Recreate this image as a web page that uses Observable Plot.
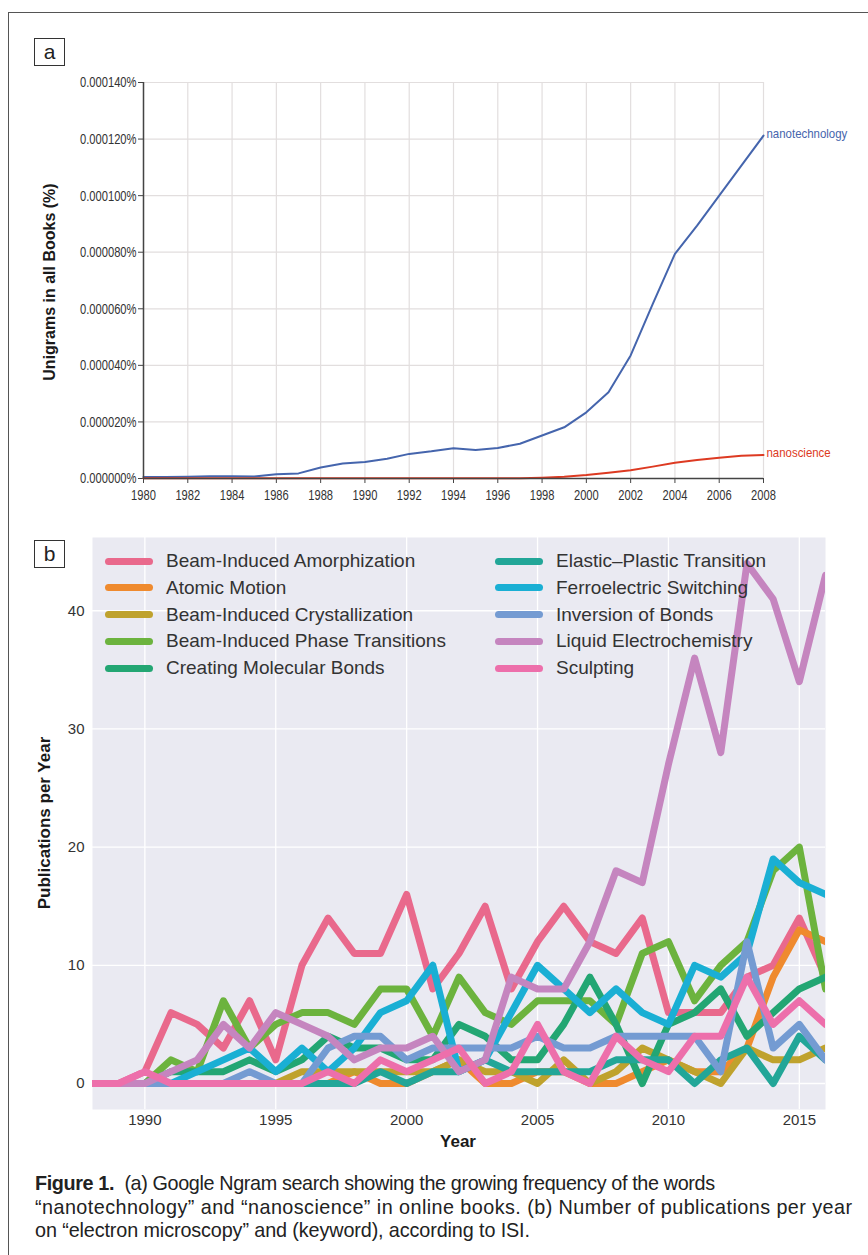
<!DOCTYPE html>
<html>
<head>
<meta charset="utf-8">
<script src="https://cdn.jsdelivr.net/npm/d3@7"></script>
<script src="https://cdn.jsdelivr.net/npm/@observablehq/plot@0.6"></script>
<style>
  body { margin: 0; background: #fff; }
  #page { position: relative; width: 868px; height: 1255px; overflow: hidden; font-family: "Liberation Sans", Arial, sans-serif; color: #222; }
  .frame { position: absolute; left: 8px; top: 12px; width: 1000px; height: 1400px; border-left: 1.5px solid #555; border-top: 1.5px solid #555; }
  .box { position: absolute; width: 29px; height: 26px; border: 1px solid #333; background: #fff; font-size: 21px; line-height: 25px; text-align: center; color: #222; }
  .abs { position: absolute; }
  .vlabel { position: absolute; transform: translate(-50%, -50%) rotate(-90deg); white-space: nowrap; font-weight: bold; color: #1a1a1a; }
  .legrow { position: absolute; height: 26px; display: flex; align-items: center; white-space: nowrap; font-size: 19px; color: #333; }
  .sw { width: 48px; height: 7px; border-radius: 4px; margin-right: 13px; }
  .capline { position: absolute; left: 35px; font-size: 19.8px; line-height: 23.5px; color: #222; white-space: nowrap; }
  #pa, #pb { position: absolute; left: 0; }
</style>
</head>
<body>
<div id="page">
  <div class="frame"></div>
  <div id="pa" style="top:0"></div>
  <div id="pb" style="top:520px"></div>
  <div class="box" style="left:34px; top:38px;">a</div>
  <div class="box" style="left:34px; top:540px;">b</div>
  <div class="vlabel" style="left:50px; top:282px; font-size:16px;">Unigrams in all Books (%)</div>
  <div class="vlabel" style="left:45px; top:823px; font-size:17px;">Publications per Year</div>
  <div class="abs" style="left:458px; top:1142px; transform: translate(-50%,-50%); font-weight:bold; font-size:17px; color:#1a1a1a;">Year</div>
  <div id="legend"></div>
  <div class="capline" data-w="680" style="top:1172px"><b>Figure 1.</b>&nbsp; (a) Google Ngram search showing the growing frequency of the words</div>
  <div class="capline" data-w="817" style="top:1195.5px">“nanotechnology” and “nanoscience” in online books. (b) Number of publications per year</div>
  <div class="capline" data-w="495" style="top:1219px">on “electron microscopy” and (keyword), according to ISI.</div>
</div>
<script>
// ---------- Panel a: Google Ngram ----------
const ngramYears = [1980,1981,1982,1983,1984,1985,1986,1987,1988,1989,1990,1991,1992,1993,1994,1995,1996,1997,1998,1999,2000,2001,2002,2003,2004,2005,2006,2007,2008];
// frequency in percent
const nanotechnology = [0.0000005,0.0000005,0.0000006,0.0000008,0.0000008,0.0000007,0.0000015,0.0000018,0.0000039,0.0000053,0.0000058,0.0000070,0.0000087,0.0000096,0.0000107,0.0000101,0.0000108,0.0000123,0.0000152,0.0000181,0.0000234,0.0000305,0.0000435,0.0000617,0.0000794,0.0000894,0.0001000,0.0001106,0.0001212];
const nanoscience = [0.0000001,0.0000001,0.0000001,0.0000001,0.0000001,0.0000001,0.0000001,0.0000001,0.0000001,0.0000001,0.0000001,0.0000001,0.0000001,0.0000001,0.0000001,0.0000001,0.0000001,0.0000001,0.0000003,0.0000006,0.0000012,0.0000020,0.0000029,0.0000042,0.0000056,0.0000065,0.0000073,0.0000080,0.0000083];
const ngramNames = ["nanotechnology", "nanoscience"];
const ngramColors = ["#4565ad", "#dd3a22"];
const ngramXTicks = [1980,1982,1984,1986,1988,1990,1992,1994,1996,1998,2000,2002,2004,2006,2008];
const ngramYTicks = [0, 0.00002, 0.00004, 0.00006, 0.00008, 0.0001, 0.00012, 0.00014];

// ---------- Panel b: publications per year ----------
const pubYears = [1988,1989,1990,1991,1992,1993,1994,1995,1996,1997,1998,1999,2000,2001,2002,2003,2004,2005,2006,2007,2008,2009,2010,2011,2012,2013,2014,2015,2016];
const seriesNames = ["Beam-Induced Amorphization","Atomic Motion","Beam-Induced Crystallization","Beam-Induced Phase Transitions","Creating Molecular Bonds","Elastic–Plastic Transition","Ferroelectric Switching","Inversion of Bonds","Liquid Electrochemistry","Sculpting"];
const seriesColors = ["#e9698c","#ef8a2e","#bfa22d","#6cb33e","#23a673","#22a698","#1aafd4","#749bd2","#c585bf","#ed6fab"];
const amorphization   = [0,0,1,6,5,3,7,2,10,14,11,11,16,8,11,15,8,12,15,12,11,14,6,6,6,9,10,14,9];
const atomicMotion    = [0,0,0,0,0,0,0,0,0,0,1,0,0,1,2,0,0,1,1,0,0,1,2,1,1,3,9,13,12];
const crystallization = [0,0,0,0,0,0,0,0,1,1,1,1,1,1,2,1,1,0,2,0,1,3,2,1,0,3,2,2,3];
const phaseTransitions= [0,0,0,2,1,7,3,5,6,6,5,8,8,4,9,6,5,7,7,7,5,11,12,7,10,12,18,20,8];
const molecularBonds  = [0,0,0,1,1,1,2,1,2,4,3,3,2,2,5,4,2,2,5,9,5,0,5,6,8,4,6,8,9];
const elasticPlastic  = [0,0,0,0,0,0,0,0,0,0,0,1,0,1,1,2,1,1,1,1,2,2,2,0,2,3,0,4,2];
const ferroelectric   = [0,0,0,0,1,2,3,1,3,1,3,6,7,10,1,2,6,10,8,6,8,6,5,10,9,11,19,17,16];
const inversionBonds  = [0,0,0,0,0,0,1,0,0,3,4,4,2,3,3,3,3,4,3,3,4,4,4,4,1,12,3,5,2];
const liquidElectro   = [0,0,0,1,2,5,3,6,5,4,2,3,3,4,1,2,9,8,8,12,18,17,27,36,28,44,41,34,43];
const sculpting       = [0,0,1,0,0,0,0,0,0,1,0,2,1,2,3,0,1,5,1,0,4,2,1,4,4,9,5,7,5];
const pubXTicks = [1990, 1995, 2000, 2005, 2010, 2015];
const pubYTicks = [0, 10, 20, 30, 40];

// ---------- Build panel a ----------
const ngramRows = [];
[nanotechnology, nanoscience].forEach((vals, i) => {
  vals.forEach((v, j) => ngramRows.push({year: ngramYears[j], value: v, name: ngramNames[i]}));
});
const plotA = Plot.plot({
  width: 868, height: 515,
  marginLeft: 143, marginRight: 105, marginTop: 82, marginBottom: 37,
  style: {fontFamily: "'Liberation Sans', Arial, sans-serif", fontSize: "15.5px", color: "#333", background: "transparent", overflow: "visible"},
  x: {domain: [1980, 2008]},
  y: {domain: [0, 0.00014]},
  color: {domain: ngramNames, range: ngramColors},
  marks: [
    Plot.gridX(ngramXTicks, {stroke: "#e2dede", strokeOpacity: 1, strokeWidth: 1.2}),
    Plot.gridY(ngramYTicks, {stroke: "#e2dede", strokeOpacity: 1, strokeWidth: 1.2}),
    Plot.axisX(ngramXTicks, {tickSize: 5, tickPadding: 5, tickFormat: d => String(d), label: null, stroke: "#444", fill: "#333"}),
    Plot.axisY(ngramYTicks, {tickSize: 5, tickPadding: 2, tickFormat: d => d.toFixed(6) + "%", label: null, stroke: "#444", fill: "#333"}),
    Plot.line(ngramRows, {x: "year", y: "value", z: "name", stroke: "name", strokeWidth: 2}),
    Plot.ruleX([1980], {stroke: "#444", strokeWidth: 1.5}),
    Plot.ruleY([0], {stroke: "#444", strokeWidth: 1.5}),
    Plot.text(ngramRows, Plot.selectLast({x: "year", y: "value", z: "name", text: "name", fill: "name", textAnchor: "start", dx: 3, dy: -2, fontSize: 13, className: "endlabel"}))
  ]
});
document.getElementById("pa").appendChild(plotA);
// the original uses a condensed face: squeeze the glyphs horizontally
plotA.querySelectorAll("text").forEach(t => {
  const w = t.getComputedTextLength();
  if (w > 0) {
    const isEnd = t.closest(".endlabel") !== null;
    t.setAttribute("textLength", (w * (isEnd ? 0.88 : 0.72)).toFixed(1));
    t.setAttribute("lengthAdjust", "spacingAndGlyphs");
  }
});

// ---------- Build panel b ----------
const allSeries = [amorphization, atomicMotion, crystallization, phaseTransitions, molecularBonds, elasticPlastic, ferroelectric, inversionBonds, liquidElectro, sculpting];
const pubRows = [];
allSeries.forEach((vals, i) => {
  vals.forEach((v, j) => pubRows.push({year: pubYears[j], count: v, series: seriesNames[i]}));
});
const plotB = Plot.plot({
  width: 868, height: 650,
  marginLeft: 92, marginRight: 43, marginTop: 17, marginBottom: 61,
  style: {fontFamily: "'Liberation Sans', Arial, sans-serif", fontSize: "15px", color: "#333", background: "transparent"},
  x: {domain: [1988, 2016]},
  y: {domain: [-2.2, 46.2]},
  color: {domain: seriesNames, range: seriesColors},
  marks: [
    Plot.frame({fill: "#eaeaf2", stroke: null}),
    Plot.gridX(pubXTicks, {stroke: "#fff", strokeOpacity: 1, strokeWidth: 1.3}),
    Plot.gridY(pubYTicks, {stroke: "#fff", strokeOpacity: 1, strokeWidth: 1.3}),
    Plot.axisX(pubXTicks, {tickSize: 0, tickPadding: 5, label: null, tickFormat: d => String(d), fill: "#333"}),
    Plot.axisY(pubYTicks, {tickSize: 0, tickPadding: 8, label: null, fill: "#333"}),
    Plot.line(pubRows, {x: "year", y: "count", z: "series", stroke: "series", strokeWidth: 7, strokeLinejoin: "round", clip: true})
  ]
});
document.getElementById("pb").appendChild(plotB);

// ---------- Legend ----------
const legend = document.getElementById("legend");
seriesNames.forEach((name, i) => {
  const col = Math.floor(i / 5), row = i % 5;
  const div = document.createElement("div");
  div.className = "legrow";
  div.style.left = (col === 0 ? 105 : 495) + "px";
  div.style.top = (548 + row * 26.8) + "px";
  const sw = document.createElement("div");
  sw.className = "sw";
  sw.style.background = seriesColors[i];
  const tx = document.createElement("span");
  tx.textContent = name;
  div.appendChild(sw);
  div.appendChild(tx);
  legend.appendChild(div);
});

// ---------- Caption: fit each line to the width it has in the original ----------
document.querySelectorAll(".capline").forEach(el => {
  const target = +el.dataset.w;
  const w = el.getBoundingClientRect().width;
  const n = el.textContent.length;
  el.style.letterSpacing = ((target - w) / (n - 1)).toFixed(3) + "px";
});
</script>
</body>
</html>
